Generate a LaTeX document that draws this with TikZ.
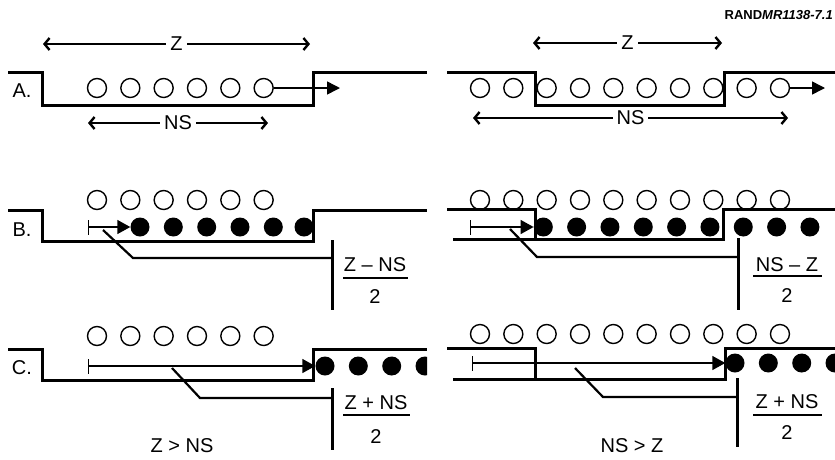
\documentclass[tikz,border=0pt]{standalone}
\usepackage{fontspec}
\setmainfont{Liberation Sans}
\usetikzlibrary{arrows.meta}
\begin{document}
\begin{tikzpicture}[x=1pt,y=-1pt,
  wall/.style={line width=3pt,line join=miter},
  ring/.style={circle,draw,line width=1.4pt,minimum size=19pt,inner sep=0pt},
  disc/.style={circle,fill=black,minimum size=19pt,inner sep=0pt},
  dim/.style={line width=1.6pt,
    {Straight Barb[length=5pt,width=12pt,line width=2.4pt]}-{Straight Barb[length=5pt,width=12pt,line width=2.4pt]}},
  push/.style={line width=1.5pt,-{Triangle[length=13pt,width=13pt]}},
  span/.style={line width=1.4pt,{Bar[width=15pt,line width=1.4pt]}-{Triangle[length=13pt,width=14pt]}},
  lead/.style={line width=2.2pt,line join=miter},
  post/.style={line width=3pt},
  fbar/.style={line width=1.5pt},
  big/.style={font=\fontsize{20}{22}\selectfont,inner sep=0pt},
  dimlabel/.style={font=\fontsize{20}{22}\selectfont,fill=white,inner xsep=4pt,inner ysep=1pt}
]
\useasboundingbox (0,0) rectangle (835,459);

\node[anchor=east,font=\fontsize{13}{15}\selectfont\bfseries,inner sep=0pt] (tag) at (833,15) {RAND\itshape MR1138-7.1};

% ---------------- left column: Z > NS ----------------
\begin{scope}
\clip (0,0) rectangle (427,459);

% row A
\node[big] (labA) at (22,91) {A.};
\draw[wall] (8,72) -- (42,72) -- (42,105) -- (313,105) -- (313,72) -- (427,72);
\foreach \i in {0,...,5} \node[ring] (la\i) at ({97+33.33*\i},88) {};
\coordinate (laTip) at (340,88);
\draw[push] (la5.east) -- (laTip);
\coordinate (lzL) at (43,44); \coordinate (lzR) at (310,44);
\draw[dim] (lzL) -- (lzR) node[dimlabel,midway] (lzT) {Z};
\coordinate (lnL) at (88,123); \coordinate (lnR) at (268,123);
\draw[dim] (lnL) -- (lnR) node[dimlabel,midway] (lnT) {NS};

% row B
\node[big] (labB) at (22,230) {B.};
\draw[wall] (8,210) -- (42,210) -- (42,241) -- (313,241) -- (313,210) -- (427,210);
\foreach \i in {0,...,5} \node[ring] (lbo\i) at ({97+33.33*\i},200) {};
\foreach \i/\x in {0/140,1/173.3,2/206.7,3/240,4/273.3,5/304}
  \node[disc] (lbf\i) at (\x,227) {};
\coordinate (lbS) at (88,227);
\draw[span] (lbS) -- (lbf0.west);
\coordinate (lbP) at (103,230); \coordinate (lbK) at (133,258); \coordinate (lbE) at (332,258);
\draw[lead] (lbP) -- (lbK) -- (lbE);
\coordinate (lbVt) at (332,240); \coordinate (lbVb) at (332,310);
\draw[post] (lbVt) -- (lbVb);
\node[big] (lbNum) at (375,265) {Z – NS};
\coordinate (lbB1) at (343,278); \coordinate (lbB2) at (408,278);
\draw[fbar] (lbB1) -- (lbB2);
\node[big] (lbDen) at (375,297) {2};

% row C
\node[big] (labC) at (22,368) {C.};
\draw[wall] (8,349) -- (42,349) -- (42,380) -- (313,380) -- (313,349) -- (427,349);
\foreach \i in {0,...,5} \node[ring] (lco\i) at ({97+33.33*\i},336) {};
\foreach \i/\x in {0/325,1/358.3,2/391.7,3/425}
  \node[disc] (lcf\i) at (\x,366) {};
\coordinate (lcS) at (88,366);
\draw[span] (lcS) -- (lcf0.west);
\coordinate (lcP) at (172,368); \coordinate (lcK) at (200,398); \coordinate (lcE) at (332,398);
\draw[lead] (lcP) -- (lcK) -- (lcE);
\coordinate (lcVt) at (332,388); \coordinate (lcVb) at (332,450);
\draw[post] (lcVt) -- (lcVb);
\node[big] (lcNum) at (376,403) {Z + NS};
\coordinate (lcB1) at (343,415); \coordinate (lcB2) at (410,415);
\draw[fbar] (lcB1) -- (lcB2);
\node[big] (lcDen) at (376,437) {2};
\node[big] (lcCase) at (182,446) {Z > NS};
\end{scope}

% ---------------- right column: NS > Z ----------------
\begin{scope}
\clip (430,0) rectangle (835,459);

% row A
\draw[wall] (447,72) -- (535,72) -- (535,105) -- (724,105) -- (724,72) -- (835,72);
\foreach \i in {0,...,9} \node[ring] (ra\i) at ({480+33.33*\i},88) {};
\coordinate (raTip) at (825,88);
\draw[push] (ra9.east) -- (raTip);
\coordinate (rzL) at (533,43); \coordinate (rzR) at (722,43);
\draw[dim] (rzL) -- (rzR) node[dimlabel,midway] (rzT) {Z};
\coordinate (rnL) at (473,118); \coordinate (rnR) at (788,118);
\draw[dim] (rnL) -- (rnR) node[dimlabel,midway] (rnT) {NS};

% row B
\draw[wall] (447,209) -- (535,209) -- (535,239);
\draw[wall] (453,239) -- (723,239) -- (723,209) -- (835,209);
\foreach \i in {0,...,9} \node[ring] (rbo\i) at ({480+33.33*\i},200) {};
\foreach \i in {0,...,8} \node[disc] (rbf\i) at ({543.3+33.33*\i},227) {};
\coordinate (rbS) at (470,227);
\draw[span] (rbS) -- (rbf0.west);
\coordinate (rbP) at (510,229); \coordinate (rbK) at (537,257); \coordinate (rbE) at (738,257);
\draw[lead] (rbP) -- (rbK) -- (rbE);
\coordinate (rbVt) at (738,238); \coordinate (rbVb) at (738,310);
\draw[post] (rbVt) -- (rbVb);
\node[big] (rbNum) at (787,265) {NS – Z};
\coordinate (rbB1) at (753,276); \coordinate (rbB2) at (822,276);
\draw[fbar] (rbB1) -- (rbB2);
\node[big] (rbDen) at (787,296) {2};

% row C
\draw[wall] (447,348) -- (535,348) -- (535,379);
\draw[wall] (453,379) -- (725,379) -- (725,348) -- (835,348);
\foreach \i in {0,...,9} \node[ring] (rco\i) at ({480+33.33*\i},334) {};
\foreach \i/\x in {0/735,1/768.3,2/801.7,3/835}
  \node[disc] (rcf\i) at (\x,363) {};
\coordinate (rcS) at (472,363);
\draw[span] (rcS) -- (rcf0.west);
\coordinate (rcP) at (575,368); \coordinate (rcK) at (603,397); \coordinate (rcE) at (737,397);
\draw[lead] (rcP) -- (rcK) -- (rcE);
\coordinate (rcVt) at (737,378); \coordinate (rcVb) at (737,447);
\draw[post] (rcVt) -- (rcVb);
\node[big] (rcNum) at (787,402) {Z + NS};
\coordinate (rcB1) at (753,415); \coordinate (rcB2) at (822,415);
\draw[fbar] (rcB1) -- (rcB2);
\node[big] (rcDen) at (787,433) {2};
\node[big] (rcCase) at (632,446) {NS > Z};
\end{scope}
\end{tikzpicture}
\end{document}
